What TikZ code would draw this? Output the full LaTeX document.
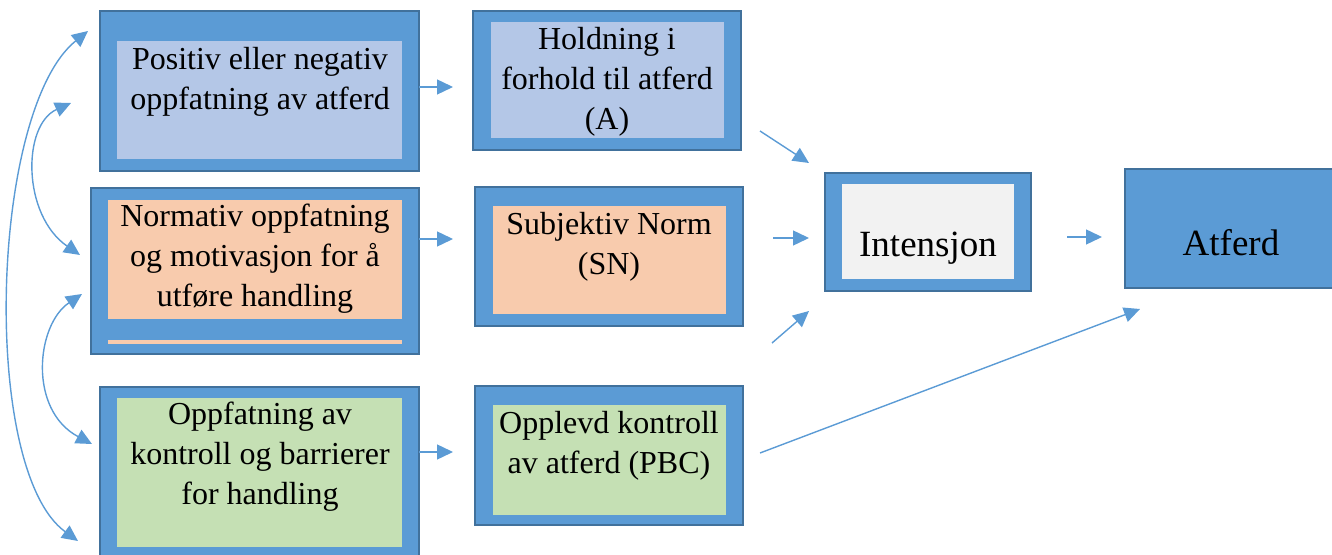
\documentclass[tikz,border=0pt]{standalone}
\usepackage{fontspec}
\setmainfont{Liberation Serif}
\usetikzlibrary{arrows.meta,fit}
\definecolor{boxblue}{HTML}{5B9BD5}
\definecolor{edgeblue}{HTML}{41719C}
\definecolor{lblue}{HTML}{B4C7E7}
\definecolor{peach}{HTML}{F8CBAD}
\definecolor{lgreen}{HTML}{C5E0B4}
\definecolor{lgray}{HTML}{F2F2F2}
\begin{document}
\begin{tikzpicture}[x=0.5pt,y=-0.5pt,
  outerbox/.style={draw=edgeblue,line width=1pt,fill=boxblue,inner sep=0pt},
  innerbox/.style={fill=#1,inner sep=0pt},
  lbl/.style={align=center,inner sep=0pt,font=\fontsize{16}{20}\selectfont},
  biglbl/.style={align=center,inner sep=0pt,font=\fontsize{18.5}{22}\selectfont},
  conn/.style={draw=boxblue,line width=0.7pt,-{Triangle[length=8pt,width=7.5pt]}},
  dconn/.style={draw=boxblue,line width=0.7pt,{Triangle[length=8pt,width=7.5pt]}-{Triangle[length=8pt,width=7.5pt]}}]
\useasboundingbox (0,0) rectangle (1332,555);

% Row 1
\node[outerbox,fit={(100,11) (419,171)}] (b1o) {};
\node[innerbox=lblue,fit={(117,41) (402,159)}] (b1i) {};
\node[lbl] (b1t) at (260,82) {Positiv eller negativ\\oppfatning av atferd};

\node[outerbox,fit={(473,11) (741,150)}] (ao) {};
\node[innerbox=lblue,fit={(491,22) (724,138)}] (ai) {};
\node[lbl] (at) at (607,82) {Holdning i\\forhold til atferd\\(A)};

% Row 2
\node[outerbox,fit={(91,188) (419,354)}] (b2o) {};
\node[innerbox=peach,fit={(108,200) (402,319)}] (b2i) {};
\node[innerbox=peach,fit={(108,340) (402,344)}] (b2s) {};
\node[lbl] (b2t) at (255,259) {Normativ oppfatning\\og motivasjon for å\\utføre handling};

\node[outerbox,fit={(475,187) (743,326)}] (sno) {};
\node[innerbox=peach,fit={(493,206) (726,314)}] (sni) {};
\node[lbl] (snt) at (609,247) {Subjektiv Norm\\(SN)};

% Row 3
\node[outerbox,fit={(100,387) (419,565)}] (b3o) {};
\node[innerbox=lgreen,fit={(117,398) (402,547)}] (b3i) {};
\node[lbl] (b3t) at (260,457) {Oppfatning av\\kontroll og barrierer\\for handling};

\node[outerbox,fit={(475,386) (743,525)}] (pbco) {};
\node[innerbox=lgreen,fit={(493,405) (726,515)}] (pbci) {};
\node[lbl] (pbct) at (609,446) {Opplevd kontroll\\av atferd (PBC)};

% Intensjon / Atferd
\node[outerbox,fit={(825,173) (1031,291)}] (io) {};
\node[innerbox=lgray,fit={(842,184) (1014,279)}] (ii) {};
\node[biglbl] (it) at (928,248) {Intensjon};

\node[outerbox,fit={(1125,169) (1345,288)}] (fo) {};
\node[biglbl] (ft) at (1231,243) {Atferd};

% connector end points
\coordinate (p1s) at (419,87);  \coordinate (p1e) at (453,87);
\coordinate (p2s) at (419,239); \coordinate (p2e) at (453,239);
\coordinate (p3s) at (419,452); \coordinate (p3e) at (453,452);
\coordinate (q1s) at (760,131); \coordinate (q1e) at (809,163);
\coordinate (q2s) at (773,238); \coordinate (q2e) at (809,238);
\coordinate (q3s) at (772,343); \coordinate (q3e) at (809,311);
\coordinate (r1s) at (1067,237); \coordinate (r1e) at (1102,237);
\coordinate (r2s) at (760,453); \coordinate (r2e) at (1140,309);

\draw[conn] (p1s) -- (p1e);
\draw[conn] (p2s) -- (p2e);
\draw[conn] (p3s) -- (p3e);
\draw[conn] (q1s) -- (q1e);
\draw[conn] (q2s) -- (q2e);
\draw[conn] (q3s) -- (q3e);
\draw[conn] (r1s) -- (r1e);
\draw[conn] (r2s) -- (r2e);

% left double arcs
\coordinate (l1a) at (88,31);  \coordinate (l1b) at (78,541);
\coordinate (l2a) at (71,103); \coordinate (l2b) at (80,255);
\coordinate (l3a) at (82,294); \coordinate (l3b) at (92,444);
\draw[dconn] (l1a) .. controls (-10,110) and (-20,470) .. (l1b);
\draw[dconn] (l2a) .. controls (22,125) and (22,215) .. (l2b);
\draw[dconn] (l3a) .. controls (36,325) and (28,410) .. (l3b);
\end{tikzpicture}
\end{document}
